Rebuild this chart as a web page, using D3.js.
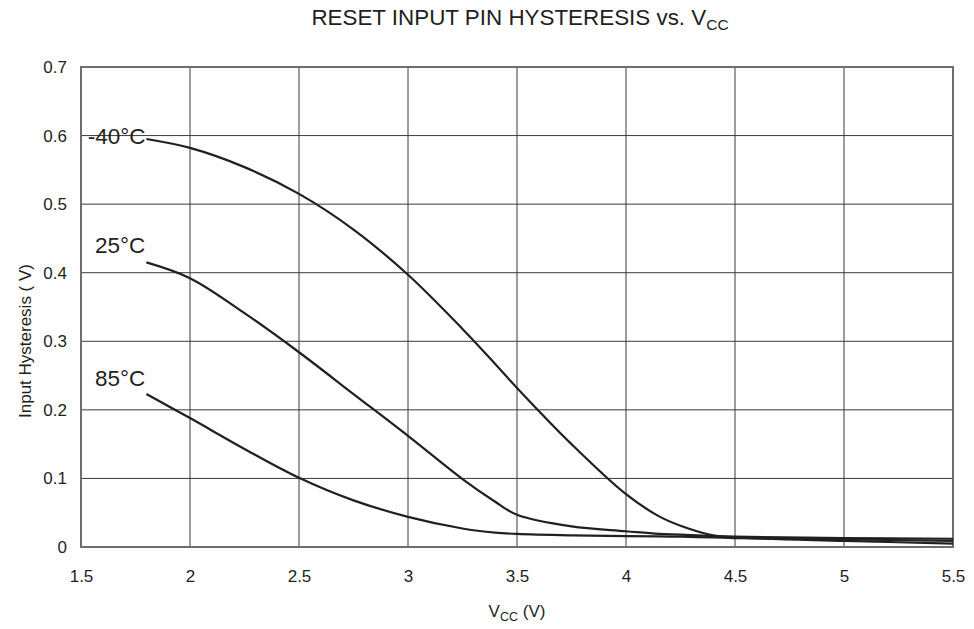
<!DOCTYPE html>
<html>
<head>
<meta charset="utf-8">
<script src="https://cdn.jsdelivr.net/npm/d3@7"></script>
<style>
  body { margin: 0; background: #fff; }
  text { font-family: "Liberation Sans", Arial, sans-serif; fill: #231f20; }
</style>
</head>
<body>
<div id="chart"></div>
<script>
const margin = { top: 67, right: 21, bottom: 82, left: 81 };
const W = 974, H = 629;
const width = W - margin.left - margin.right;
const height = H - margin.top - margin.bottom;

const xTicks = [1.5, 2, 2.5, 3, 3.5, 4, 4.5, 5, 5.5];
const yTicks = [0, 0.1, 0.2, 0.3, 0.4, 0.5, 0.6, 0.7];

const vcc = [1.8, 2.0, 2.25, 2.5, 2.75, 3.0, 3.25, 3.4, 3.5, 3.75, 4.0, 4.15, 4.25, 4.4, 4.5, 5.0, 5.5];
const hystM40 = [0.595, 0.582, 0.554, 0.515, 0.463, 0.397, 0.318, 0.267, 0.232, 0.150, 0.077, 0.045, 0.031, 0.017, 0.014, 0.009, 0.005];
const hyst25 = [0.415, 0.392, 0.341, 0.284, 0.223, 0.162, 0.099, 0.066, 0.047, 0.030, 0.023, 0.019, 0.018, 0.016, 0.015, 0.013, 0.012];
const hyst85 = [0.223, 0.188, 0.143, 0.101, 0.068, 0.044, 0.027, 0.021, 0.019, 0.017, 0.016, 0.0155, 0.015, 0.014, 0.013, 0.011, 0.009];

const series = [
  { name: "-40°C", values: hystM40, labelX: 1.531, labelY: 0.6 },
  { name: "25°C", values: hyst25, labelX: 1.564, labelY: 0.441 },
  { name: "85°C", values: hyst85, labelX: 1.564, labelY: 0.247 }
];

const svg = d3.select("#chart")
  .append("svg")
  .attr("width", W)
  .attr("height", H);

const chart = svg.append("g")
  .attr("transform", `translate(${margin.left},${margin.top})`);

const x = d3.scaleLinear().domain([1.5, 5.5]).range([0, width]);
const y = d3.scaleLinear().domain([0, 0.7]).range([height, 0]);

// grid
chart.append("g")
  .selectAll("line")
  .data(xTicks)
  .enter()
  .append("line")
  .attr("x1", d => x(d))
  .attr("x2", d => x(d))
  .attr("y1", 0)
  .attr("y2", height)
  .attr("stroke", "#3a3a3a")
  .attr("stroke-width", 1);

chart.append("g")
  .selectAll("line")
  .data(yTicks)
  .enter()
  .append("line")
  .attr("x1", 0)
  .attr("x2", width)
  .attr("y1", d => y(d))
  .attr("y2", d => y(d))
  .attr("stroke", "#3a3a3a")
  .attr("stroke-width", 1);

// frame
chart.append("rect")
  .attr("x", 0)
  .attr("y", 0)
  .attr("width", width)
  .attr("height", height)
  .attr("fill", "none")
  .attr("stroke", "#6d6e71")
  .attr("stroke-width", 2);

// axes (labels only)
const xAxis = chart.append("g")
  .attr("transform", `translate(0,${height})`)
  .call(d3.axisBottom(x).tickValues(xTicks).tickSize(0).tickPadding(23).tickFormat(d3.format("")));
xAxis.select(".domain").remove();
xAxis.selectAll("text").style("font-size", "17px").style("font-family", "Liberation Sans, Arial, sans-serif").attr("fill", "#231f20");

const yAxis = chart.append("g")
  .call(d3.axisLeft(y).tickValues(yTicks).tickSize(0).tickPadding(14).tickFormat(d3.format("")));
yAxis.select(".domain").remove();
yAxis.selectAll("text").style("font-size", "17px").style("font-family", "Liberation Sans, Arial, sans-serif").attr("fill", "#231f20");

// curves
const line = d3.line()
  .x((d, i) => x(vcc[i]))
  .y(d => y(d))
  .curve(d3.curveCatmullRom.alpha(0.5));

chart.selectAll(".curve")
  .data(series)
  .enter()
  .append("path")
  .attr("class", "curve")
  .attr("fill", "none")
  .attr("stroke", "#231f20")
  .attr("stroke-width", 2.2)
  .attr("d", d => line(d.values));

chart.selectAll(".curve-label")
  .data(series)
  .enter()
  .append("text")
  .attr("class", "curve-label")
  .attr("x", d => x(d.labelX))
  .attr("y", d => y(d.labelY))
  .attr("dy", "0.36em")
  .style("font-size", "22.5px")
  .text(d => d.name);

// title
const title = svg.append("text")
  .attr("x", 520)
  .attr("y", 25)
  .attr("text-anchor", "middle")
  .style("font-size", "22.4px");
title.append("tspan").text("RESET INPUT PIN HYSTERESIS vs. V");
title.append("tspan").attr("dy", 5).style("font-size", "15.5px").text("CC");

// x label
const xl = svg.append("text")
  .attr("x", margin.left + width / 2)
  .attr("y", 617)
  .attr("text-anchor", "middle")
  .style("font-size", "17px");
xl.append("tspan").text("V");
xl.append("tspan").attr("dy", 4).style("font-size", "12.5px").text("CC");
xl.append("tspan").attr("dy", -4).text(" (V)");

// y label
svg.append("text")
  .attr("transform", "rotate(-90)")
  .attr("x", -341)
  .attr("y", 25)
  .attr("dy", "0.36em")
  .attr("text-anchor", "middle")
  .style("font-size", "17px")
  .text("Input Hysteresis ( V)");
</script>
</body>
</html>
